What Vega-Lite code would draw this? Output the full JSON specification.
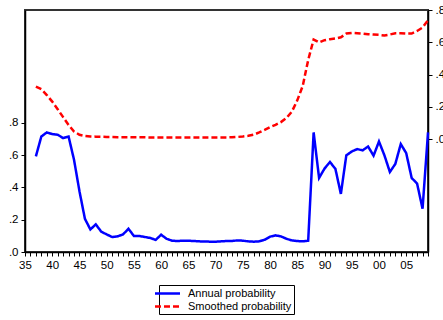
{
  "$schema": "https://vega.github.io/schema/vega-lite/v6.json",
  "width": 403,
  "height": 242,
  "autosize": {"type": "none"},
  "padding": {"left": 25, "top": 10, "right": 15, "bottom": 68},
  "background": "white",
  "config": {
    "font": "Liberation Sans",
    "view": {"stroke": "#333", "strokeWidth": 2},
    "axis": {"domainColor": "#000", "domainWidth": 1.5, "tickColor": "#000", "tickWidth": 1, "labelColor": "#000", "labelFontSize": 11.5, "labelFont": "Liberation Sans", "grid": false}
  },
  "data": {"values": [
    {"year":1937,"Annual probability":0.593,"Smoothed probability":0.325},
    {"year":1938,"Annual probability":0.716,"Smoothed probability":0.309},
    {"year":1939,"Annual probability":0.741,"Smoothed probability":0.273},
    {"year":1940,"Annual probability":0.731,"Smoothed probability":0.232},
    {"year":1941,"Annual probability":0.727,"Smoothed probability":0.185},
    {"year":1942,"Annual probability":0.706,"Smoothed probability":0.136},
    {"year":1943,"Annual probability":0.716,"Smoothed probability":0.088},
    {"year":1944,"Annual probability":0.572,"Smoothed probability":0.047},
    {"year":1945,"Annual probability":0.377,"Smoothed probability":0.027},
    {"year":1946,"Annual probability":0.206,"Smoothed probability":0.019},
    {"year":1947,"Annual probability":0.14,"Smoothed probability":0.016},
    {"year":1948,"Annual probability":0.171,"Smoothed probability":0.015},
    {"year":1949,"Annual probability":0.126,"Smoothed probability":0.014},
    {"year":1950,"Annual probability":0.109,"Smoothed probability":0.013},
    {"year":1951,"Annual probability":0.093,"Smoothed probability":0.013},
    {"year":1952,"Annual probability":0.097,"Smoothed probability":0.012},
    {"year":1953,"Annual probability":0.109,"Smoothed probability":0.012},
    {"year":1954,"Annual probability":0.144,"Smoothed probability":0.012},
    {"year":1955,"Annual probability":0.099,"Smoothed probability":0.011},
    {"year":1956,"Annual probability":0.099,"Smoothed probability":0.011},
    {"year":1957,"Annual probability":0.093,"Smoothed probability":0.011},
    {"year":1958,"Annual probability":0.087,"Smoothed probability":0.01},
    {"year":1959,"Annual probability":0.075,"Smoothed probability":0.01},
    {"year":1960,"Annual probability":0.107,"Smoothed probability":0.01},
    {"year":1961,"Annual probability":0.082,"Smoothed probability":0.01},
    {"year":1962,"Annual probability":0.07,"Smoothed probability":0.01},
    {"year":1963,"Annual probability":0.068,"Smoothed probability":0.01},
    {"year":1964,"Annual probability":0.07,"Smoothed probability":0.01},
    {"year":1965,"Annual probability":0.07,"Smoothed probability":0.01},
    {"year":1966,"Annual probability":0.068,"Smoothed probability":0.01},
    {"year":1967,"Annual probability":0.066,"Smoothed probability":0.01},
    {"year":1968,"Annual probability":0.065,"Smoothed probability":0.01},
    {"year":1969,"Annual probability":0.064,"Smoothed probability":0.01},
    {"year":1970,"Annual probability":0.064,"Smoothed probability":0.01},
    {"year":1971,"Annual probability":0.066,"Smoothed probability":0.01},
    {"year":1972,"Annual probability":0.068,"Smoothed probability":0.01},
    {"year":1973,"Annual probability":0.068,"Smoothed probability":0.011},
    {"year":1974,"Annual probability":0.072,"Smoothed probability":0.013},
    {"year":1975,"Annual probability":0.07,"Smoothed probability":0.016},
    {"year":1976,"Annual probability":0.066,"Smoothed probability":0.02},
    {"year":1977,"Annual probability":0.064,"Smoothed probability":0.027},
    {"year":1978,"Annual probability":0.066,"Smoothed probability":0.041},
    {"year":1979,"Annual probability":0.076,"Smoothed probability":0.057},
    {"year":1980,"Annual probability":0.095,"Smoothed probability":0.074},
    {"year":1981,"Annual probability":0.103,"Smoothed probability":0.088},
    {"year":1982,"Annual probability":0.097,"Smoothed probability":0.105},
    {"year":1983,"Annual probability":0.082,"Smoothed probability":0.13},
    {"year":1984,"Annual probability":0.072,"Smoothed probability":0.17},
    {"year":1985,"Annual probability":0.068,"Smoothed probability":0.24},
    {"year":1986,"Annual probability":0.066,"Smoothed probability":0.33},
    {"year":1987,"Annual probability":0.07,"Smoothed probability":0.49},
    {"year":1988,"Annual probability":0.741,"Smoothed probability":0.617},
    {"year":1989,"Annual probability":0.459,"Smoothed probability":0.599},
    {"year":1990,"Annual probability":0.517,"Smoothed probability":0.613},
    {"year":1991,"Annual probability":0.558,"Smoothed probability":0.619},
    {"year":1992,"Annual probability":0.515,"Smoothed probability":0.623},
    {"year":1993,"Annual probability":0.36,"Smoothed probability":0.631},
    {"year":1994,"Annual probability":0.599,"Smoothed probability":0.654},
    {"year":1995,"Annual probability":0.623,"Smoothed probability":0.658},
    {"year":1996,"Annual probability":0.638,"Smoothed probability":0.656},
    {"year":1997,"Annual probability":0.63,"Smoothed probability":0.654},
    {"year":1998,"Annual probability":0.654,"Smoothed probability":0.65},
    {"year":1999,"Annual probability":0.597,"Smoothed probability":0.648},
    {"year":2000,"Annual probability":0.685,"Smoothed probability":0.646},
    {"year":2001,"Annual probability":0.599,"Smoothed probability":0.642},
    {"year":2002,"Annual probability":0.496,"Smoothed probability":0.648},
    {"year":2003,"Annual probability":0.546,"Smoothed probability":0.656},
    {"year":2004,"Annual probability":0.669,"Smoothed probability":0.656},
    {"year":2005,"Annual probability":0.613,"Smoothed probability":0.654},
    {"year":2006,"Annual probability":0.459,"Smoothed probability":0.654},
    {"year":2007,"Annual probability":0.424,"Smoothed probability":0.67},
    {"year":2008,"Annual probability":0.268,"Smoothed probability":0.691},
    {"year":2009,"Annual probability":0.741,"Smoothed probability":0.736}
  ]},
  "transform": [{"fold": ["Annual probability", "Smoothed probability"], "as": ["series", "value"]}],
  "encoding": {
    "x": {
      "field": "year", "type": "quantitative",
      "scale": {"domain": [1935, 2009], "nice": false, "zero": false},
      "axis": {
        "title": null,
        "values": [1935,1936,1937,1938,1939,1940,1941,1942,1943,1944,1945,1946,1947,1948,1949,1950,1951,1952,1953,1954,1955,1956,1957,1958,1959,1960,1961,1962,1963,1964,1965,1966,1967,1968,1969,1970,1971,1972,1973,1974,1975,1976,1977,1978,1979,1980,1981,1982,1983,1984,1985,1986,1987,1988,1989,1990,1991,1992,1993,1994,1995,1996,1997,1998,1999,2000,2001,2002,2003,2004,2005,2006,2007,2008,2009],
        "labelExpr": "datum.value % 5 == 0 ? substring('' + datum.value, 2) : ''",
        "labelOverlap": false,
        "labelFlush": false,
        "tickSize": 4,
        "labelPadding": 3
      }
    },
    "color": {
      "field": "series", "type": "nominal",
      "scale": {"domain": ["Annual probability", "Smoothed probability"], "range": ["#0000FF", "#FF0000"]},
      "legend": {"title": null, "orient": "none", "legendX": 134, "legendY": 275, "strokeColor": "#000", "fillColor": "#fff", "padding": 2, "symbolType": "M-2.5,0L2.5,0", "symbolSize": 100, "symbolStrokeWidth": 2.5, "labelFontSize": 11, "labelFont": "Liberation Sans", "labelColor": "#000", "labelOffset": 14, "rowPadding": 1}
    },
    "strokeDash": {
      "field": "series", "type": "nominal",
      "scale": {"domain": ["Annual probability", "Smoothed probability"], "range": [[1, 0], [6, 3]]},
      "legend": {"title": null, "orient": "none", "legendX": 134, "legendY": 275, "strokeColor": "#000", "fillColor": "#fff", "padding": 2, "symbolType": "M-2.5,0L2.5,0", "symbolSize": 100, "symbolStrokeWidth": 2.5, "labelFontSize": 11, "labelFont": "Liberation Sans", "labelColor": "#000", "labelOffset": 14, "rowPadding": 1}
    }
  },
  "layer": [
    {
      "transform": [{"filter": "datum.series == 'Annual probability'"}],
      "mark": {"type": "line", "strokeWidth": 2.5},
      "encoding": {
        "y": {
          "field": "value", "type": "quantitative",
          "scale": {"domain": [0, 1.5], "nice": false, "zero": false},
          "axis": {"orient": "left", "title": null, "values": [0, 0.2, 0.4, 0.6, 0.8], "labelExpr": "replace(format(datum.value, '.1f'), '0.', '.')", "tickSize": 4, "labelPadding": 3}
        }
      }
    },
    {
      "transform": [{"filter": "datum.series == 'Smoothed probability'"}],
      "mark": {"type": "line", "strokeWidth": 2.5},
      "encoding": {
        "y": {
          "field": "value", "type": "quantitative",
          "scale": {"domain": [-0.7, 0.8], "nice": false, "zero": false},
          "axis": {"orient": "right", "title": null, "values": [0, 0.2, 0.4, 0.6, 0.8], "labelExpr": "replace(format(datum.value, '.1f'), '0.', '.')", "tickSize": 4, "labelPadding": 3}
        }
      }
    }
  ],
  "resolve": {"scale": {"y": "independent"}}
}
